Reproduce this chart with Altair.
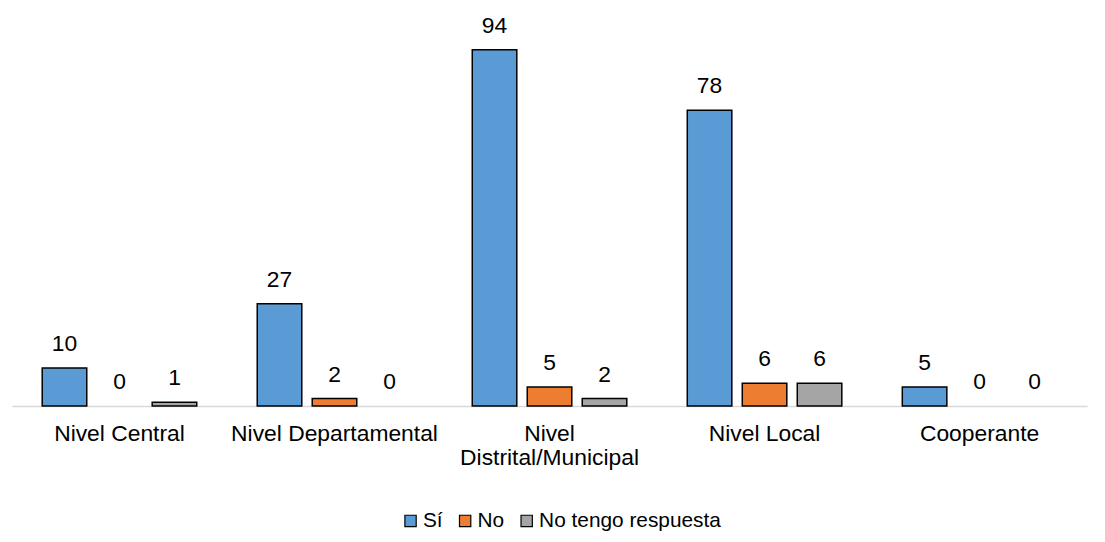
import altair as alt
import pandas as pd

categories = ["Nivel Central", "Nivel Departamental", "Nivel Distrital/Municipal", "Nivel Local", "Cooperante"]
series = ["Sí", "No", "No tengo respuesta"]
si = [10, 27, 94, 78, 5]
no = [0, 2, 5, 6, 0]
nr = [1, 0, 2, 6, 0]
colors = ["#5B9BD5", "#ED7D31", "#A5A5A5"]

rows = []
for i, c in enumerate(categories):
    for s, vals in zip(series, [si, no, nr]):
        rows.append({"cat": c, "serie": s, "val": vals[i]})
df = pd.DataFrame(rows)

FONT = "Liberation Sans"
FS = 23

x = alt.X("cat:N", sort=categories, title=None,
          scale=alt.Scale(paddingInner=0, paddingOuter=0),
          axis=alt.Axis(labelAngle=0, ticks=False, domainColor="#D9D9D9", domainWidth=1.5,
                        labelFontSize=FS, labelFont=FONT, labelColor="#000000", labelPadding=17,
                        labelLimit=400, labelLineHeight=24,
                        labelExpr="datum.value == 'Nivel Distrital/Municipal' ? ['Nivel', 'Distrital/Municipal'] : datum.value"))
xo = alt.XOffset("serie:N", sort=series, scale=alt.Scale(paddingInner=0.19, paddingOuter=0.55))
y = alt.Y("val:Q", axis=None, scale=alt.Scale(domain=[0, 104.5], nice=False, zero=True))

bars = alt.Chart(df).transform_filter("datum.val > 0").mark_bar(stroke="#000000", strokeWidth=1.5).encode(
    x=x, xOffset=xo, y=y,
    color=alt.Color("serie:N", sort=series, scale=alt.Scale(domain=series, range=colors),
                    legend=alt.Legend(title=None, orient="none", direction="horizontal",
                                      legendX=391, legendY=504, symbolType="square",
                                      symbolSize=130, symbolStrokeColor="#000000", symbolStrokeWidth=1.2,
                                      labelFontSize=21, labelFont=FONT, labelColor="#000000",
                                      labelLimit=400, columnPadding=12, symbolOffset=0, labelOffset=2))
)

text = alt.Chart(df).mark_text(fontSize=FS, font=FONT, color="#000000", baseline="alphabetic", dy=-17).encode(
    x=x, xOffset=xo, y=y, text=alt.Text("val:Q")
)

chart = alt.layer(bars, text).properties(
    width=1083, height=399,
    autosize=alt.AutoSizeParams(type="none"),
    padding={"left": 4, "top": 0, "right": 10, "bottom": 129},
).configure_view(stroke=None)

chart.save("out.html", embed_options={"renderer": "svg", "actions": False})
